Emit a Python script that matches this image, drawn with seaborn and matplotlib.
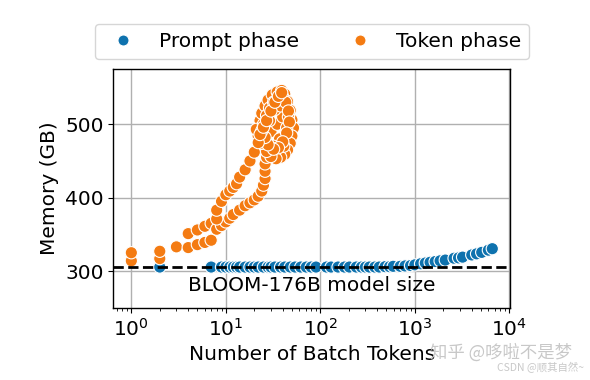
import matplotlib
matplotlib.use("Agg")
import matplotlib.pyplot as plt
import matplotlib.transforms as mtransforms
import seaborn as sns
import pandas as pd

# Prompt phase: batch tokens vs memory (GB)
prompt_tokens = [2, 7, 9, 10, 11, 12, 13, 14, 16, 18, 20, 22, 25, 28, 30, 33, 38, 42, 48,
                 54, 62, 71, 80, 90, 116, 130, 154, 180, 203, 240, 272, 300, 330, 377, 420,
                 484, 540, 590, 700, 787, 900, 1000, 1150, 1290, 1450, 1640, 1850, 2100,
                 2600, 2900, 3200, 4000, 4500, 5100, 6000, 6600]
prompt_mem = [305.5, 305.5, 305.5, 305.5, 305.5, 305.5, 305.5, 305.5, 305.5, 305.5, 305.5,
              305.5, 305.5, 305.5, 305.5, 305.5, 305.5, 305.5, 305.5, 305.5, 305.5, 305.5,
              305.5, 305.5, 305.5, 305.5, 305.5, 305.5, 305.5, 305.5, 305.5, 305.5, 305.5,
              305.5, 305.5, 306, 306, 306.5, 306.5, 307, 307.5, 308.5, 310, 311, 312, 313,
              314, 315, 317.5, 318, 319, 322, 323.5, 325.5, 328.5, 330.5]

# Token phase: batch tokens vs memory (GB)
token_tokens = [1, 1, 2, 2, 3, 4, 4, 5, 5, 6, 6, 7, 7,
                # lower branch
                8, 9, 10, 11, 12, 14, 16, 18, 20, 22, 24, 25, 26, 26, 26, 27, 27,
                # dense cluster
                22, 23, 24, 26, 28, 31, 35, 39, 42, 45, 48, 50, 52, 50, 48, 45, 42, 38,
                34, 30, 27, 24, 22, 21, 30, 35, 40, 33, 38, 29, 44, 37, 41, 46, 32, 36,
                25, 27, 29, 32, 36, 40, 43, 46, 47, 44, 40, 36, 32, 28, 26, 24,
                # upper branch (drawn on top)
                8, 8, 9, 10, 11, 12, 13, 14, 16, 18, 20, 22, 23, 25, 27, 30, 33, 36, 39]
token_mem = [314, 325, 317, 327, 333, 332, 351, 336, 356, 339, 361, 342, 365,
             357, 362, 367, 372, 377, 383, 389, 393, 397, 402, 409, 417, 426, 436, 446,
             455, 465,
             495, 505, 515, 525, 533, 540, 544, 546, 541, 531, 519, 506, 495, 484, 474,
             465, 459, 455, 453, 456, 463, 474, 484, 493, 490, 500, 510, 520, 525, 505,
             495, 480, 470, 510, 470, 535,
             500, 512, 522, 530, 536, 537, 530, 518, 503, 488, 476, 468, 466, 472, 482,
             491,
             371, 383, 395, 404, 409, 414, 419, 428, 438, 450, 462, 475, 486, 496, 505,
             518, 530, 538, 543]

model_size = 306

phases = ["Prompt phase", "Token phase"]
colors = {"Prompt phase": "#0e72ae", "Token phase": "#f47b12"}

df = pd.DataFrame({
    "tokens": prompt_tokens + token_tokens,
    "mem": prompt_mem + token_mem,
    "phase": [phases[0]] * len(prompt_tokens) + [phases[1]] * len(token_tokens),
})

FS = 14.5
plt.rcParams["font.family"] = ["DejaVu Sans"]
fig, ax = plt.subplots(figsize=(5.9, 3.8), dpi=100)
fig.subplots_adjust(left=0.192, right=0.865, bottom=0.19, top=0.818)

sns.scatterplot(data=df, x="tokens", y="mem", hue="phase", palette=colors,
                s=78, edgecolor="white", linewidth=0.8, ax=ax, zorder=3)
ax.set_xscale("log")
ax.set_ylim(250, 575)
ax.set_yticks([300, 400, 500])
ax.grid(True, color="#b0b0b0", linewidth=1.0, zorder=0)
ax.set_axisbelow(True)
for sp in ax.spines.values():
    sp.set_color("black")
    sp.set_linewidth(1.0)

ax.axhline(model_size, color="black", linestyle="--", linewidth=2, zorder=4)
trans = mtransforms.blended_transform_factory(ax.transAxes, ax.transData)
ax.text(0.5, 280, "BLOOM-176B model size", transform=trans, ha="center", va="center",
        fontsize=FS, zorder=5)

ax.tick_params(axis="both", labelsize=FS)
ax.set_xlabel("Number of Batch Tokens", fontsize=FS)
ax.set_ylabel("Memory (GB)", fontsize=FS)

leg = ax.legend(loc="lower center", bbox_to_anchor=(0.5, 1.0), ncol=2,
                fontsize=FS, title=None, frameon=True, markerscale=0.9)

fig.text(0.728, 0.072, "知乎 @哆啦不是梦", fontsize=12.5, color="#c8c8c8",
         family=["Noto Sans CJK SC", "DejaVu Sans"], ha="left", va="center")
fig.text(0.843, 0.032, "CSDN @顺其自然~", fontsize=7.5, color="#c8c8c8",
         family=["Noto Sans CJK SC", "DejaVu Sans"], ha="left", va="center")

fig.savefig("out.png", dpi=100)
